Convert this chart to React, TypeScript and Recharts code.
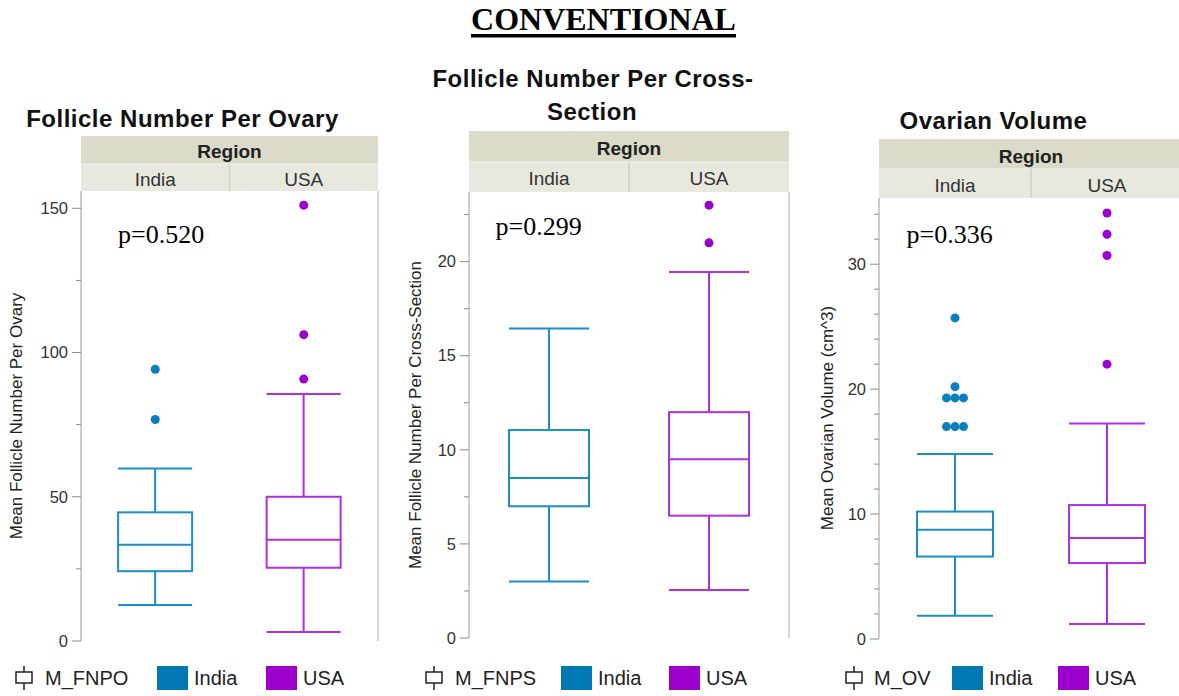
import React from 'react';
import { ComposedChart, Bar, Scatter, XAxis, YAxis } from 'recharts';

const SANS = '"Liberation Sans", Arial, Helvetica, sans-serif';
const SERIF = '"Liberation Serif", "Times New Roman", serif';

const regions = ['India', 'USA'];

// Follicle Number Per Ovary (M_FNPO)
const fnpoBoxes = [
  { region: 'India', low: 12.5, q1: 24.2, median: 33.4, q3: 44.6, high: 59.8 },
  { region: 'USA', low: 3.1, q1: 25.4, median: 35.1, q3: 50.0, high: 85.6 },
];
const fnpoIndiaOutliers = [{ x: 0.5, y: 94.2 }, { x: 0.5, y: 76.8 }];
const fnpoUsaOutliers = [{ x: 1.5, y: 90.8 }, { x: 1.5, y: 106.2 }, { x: 1.5, y: 151.1 }];
const fnpoTicks = [0, 50, 100, 150];
const fnpoMinorTicks = [25, 75, 125];

// Follicle Number Per Cross-Section (M_FNPS)
const fnpsBoxes = [
  { region: 'India', low: 3.0, q1: 7.0, median: 8.5, q3: 11.05, high: 16.45 },
  { region: 'USA', low: 2.55, q1: 6.5, median: 9.5, q3: 12.0, high: 19.45 },
];
const fnpsIndiaOutliers: { x: number; y: number }[] = [];
const fnpsUsaOutliers = [{ x: 1.5, y: 21.0 }, { x: 1.5, y: 23.0 }];
const fnpsTicks = [0, 5, 10, 15, 20];
const fnpsMinorTicks = [2.5, 7.5, 12.5, 17.5, 22.5];

// Ovarian Volume (M_OV)
const ovBoxes = [
  { region: 'India', low: 1.87, q1: 6.6, median: 8.75, q3: 10.2, high: 14.8 },
  { region: 'USA', low: 1.2, q1: 6.08, median: 8.08, q3: 10.72, high: 17.25 },
];
const ovIndiaOutliers = [
  { x: 0.5, y: 25.7 },
  { x: 0.5, y: 20.2 },
  { x: 0.444, y: 19.3 }, { x: 0.5, y: 19.3 }, { x: 0.556, y: 19.3 },
  { x: 0.444, y: 17.0 }, { x: 0.5, y: 17.0 }, { x: 0.556, y: 17.0 },
];
const ovUsaOutliers = [{ x: 1.5, y: 22.0 }, { x: 1.5, y: 30.7 }, { x: 1.5, y: 32.4 }, { x: 1.5, y: 34.1 }];
const ovTicks = [0, 10, 20, 30];
const ovMinorTicks = [2, 4, 6, 8, 12, 14, 16, 18, 22, 24, 26, 28, 32, 34];

const colors: Record<string, { line: string; dot: string; swatch: string }> = {
  India: { line: '#1a8fc7', dot: '#0a7fbf', swatch: '#0078b4' },
  USA: { line: '#b02fe0', dot: '#9c00d0', swatch: '#9d00cc' },
};

function BoxShape(props: any) {
  const { x, y, width, height, payload } = props;
  const top = Math.min(y, y + height);
  const h = Math.abs(height);
  const { low, q1, median, q3, high, region } = payload;
  const py = (v: number) => top + ((high - v) / (high - low)) * h;
  const mid = x + width / 2;
  return (
    <g stroke={colors[region].line} strokeWidth={2} fill="none">
      <line x1={x} x2={x + width} y1={py(high)} y2={py(high)} />
      <line x1={mid} x2={mid} y1={py(high)} y2={py(q3)} />
      <rect x={x} y={py(q3)} width={width} height={py(q1) - py(q3)} fill="#fff" />
      <line x1={x} x2={x + width} y1={py(median)} y2={py(median)} />
      <line x1={mid} x2={mid} y1={py(q1)} y2={py(low)} />
      <line x1={x} x2={x + width} y1={py(low)} y2={py(low)} />
    </g>
  );
}

const makeTick = (minor: number[]) => (props: any) => {
  const { x, y, payload } = props;
  const isMinor = minor.includes(payload.value);
  return (
    <g>
      <line x1={x - (isMinor ? 5 : 9)} x2={x} y1={y} y2={y} stroke="#8a8a8a" strokeWidth={1} />
      {!isMinor && (
        <text x={x - 13} y={y} dy="0.35em" textAnchor="end" fontSize={16.5} fill="#333" fontFamily={SANS}>
          {payload.value}
        </text>
      )}
    </g>
  );
};

const dot = (color: string) => (p: any) => <circle cx={p.cx} cy={p.cy} r={4.5} fill={color} />;

interface PanelProps {
  boxes: any[];
  indiaOutliers: { x: number; y: number }[];
  usaOutliers: { x: number; y: number }[];
  ticks: number[];
  minorTicks: number[];
  yMax: number;
  chartLeft: number;
  plotLeft: number;
  plotRight: number;
  plotTop: number;
  plotBottom: number;
}

function BoxPanel(p: PanelProps) {
  const data = p.boxes.map((b) => ({ ...b, range: [b.low, b.high] }));
  const width = p.plotRight - p.chartLeft + 12;
  const height = p.plotBottom - p.plotTop + 20;
  return (
    <div style={{ position: 'absolute', left: p.chartLeft, top: p.plotTop - 10 }}>
      <ComposedChart
        width={width}
        height={height}
        data={data}
        margin={{ top: 10, right: 12, bottom: 10, left: 0 }}
        barCategoryGap="25%"
      >
        <XAxis
          xAxisId="cat"
          dataKey="region"
          type="category"
          height={0}
          tick={false}
          tickLine={false}
          axisLine={{ stroke: '#999' }}
        />
        <XAxis xAxisId="num" dataKey="x" type="number" domain={[0, 2]} hide />
        <YAxis
          type="number"
          domain={[0, p.yMax]}
          allowDataOverflow
          ticks={[...p.ticks, ...p.minorTicks].sort((a, b) => a - b)}
          interval={0}
          width={p.plotLeft - p.chartLeft}
          tickSize={0}
          tickMargin={0}
          tickLine={false}
          axisLine={{ stroke: '#999' }}
          tick={makeTick(p.minorTicks)}
        />
        <Bar xAxisId="cat" dataKey="range" shape={BoxShape} isAnimationActive={false} />
        <Scatter xAxisId="num" data={p.indiaOutliers} dataKey="y" shape={dot(colors.India.dot)} isAnimationActive={false} />
        <Scatter xAxisId="num" data={p.usaOutliers} dataKey="y" shape={dot(colors.USA.dot)} isAnimationActive={false} />
      </ComposedChart>
    </div>
  );
}

function Header({ left, right, top, mid, bottom, regionBase, catBase }: any) {
  const center = (left + right) / 2;
  return (
    <g fontFamily={SANS}>
      <rect x={left} y={top} width={right - left} height={mid - top} fill="#dcdbca" />
      <rect x={left} y={mid} width={right - left} height={bottom - mid} fill="#e8e8df" />
      <line x1={left} x2={right} y1={mid} y2={mid} stroke="#f2f2ec" strokeWidth={1} />
      <line x1={center} x2={center} y1={mid} y2={bottom} stroke="#d6d6c6" strokeWidth={2} />
      <text x={center} y={regionBase} textAnchor="middle" fontSize={19} fontWeight="bold" fill="#222">Region</text>
      {regions.map((r, i) => (
        <text key={r} x={left + (right - left) * (0.25 + 0.5 * i)} y={catBase} textAnchor="middle" fontSize={19} fill="#333">
          {r}
        </text>
      ))}
    </g>
  );
}

function Legend({ iconX, label, labelX, sw1, sw2 }: any) {
  return (
    <g fontFamily={SANS} fontSize={20} fill="#222">
      <line x1={iconX + 8} x2={iconX + 8} y1={666} y2={690} stroke="#222" strokeWidth={1.5} />
      <rect x={iconX} y={672} width={16} height={11} fill="#fff" stroke="#222" strokeWidth={1.5} />
      <text x={labelX} y={685}>{label}</text>
      <rect x={sw1} y={666} width={31} height={24} fill={colors.India.swatch} />
      <text x={sw1 + 37} y={685}>India</text>
      <rect x={sw2} y={666} width={31} height={24} fill={colors.USA.swatch} />
      <text x={sw2 + 37} y={685}>USA</text>
    </g>
  );
}

export default function App() {
  return (
    <div style={{ position: 'absolute', left: 0, top: 0, width: 1179, height: 696, overflow: 'hidden', background: '#fff' }}>
      <BoxPanel boxes={fnpoBoxes} indiaOutliers={fnpoIndiaOutliers} usaOutliers={fnpoUsaOutliers}
        ticks={fnpoTicks} minorTicks={fnpoMinorTicks} yMax={156}
        chartLeft={0} plotLeft={81} plotRight={378} plotTop={191} plotBottom={641} />
      <BoxPanel boxes={fnpsBoxes} indiaOutliers={fnpsIndiaOutliers} usaOutliers={fnpsUsaOutliers}
        ticks={fnpsTicks} minorTicks={fnpsMinorTicks} yMax={23.7}
        chartLeft={400} plotLeft={469} plotRight={789} plotTop={192} plotBottom={638} />
      <BoxPanel boxes={ovBoxes} indiaOutliers={ovIndiaOutliers} usaOutliers={ovUsaOutliers}
        ticks={ovTicks} minorTicks={ovMinorTicks} yMax={35.3}
        chartLeft={800} plotLeft={879} plotRight={1183} plotTop={198} plotBottom={639} />

      <svg width={1179} height={696} style={{ position: 'absolute', left: 0, top: 0, pointerEvents: 'none' }}>
        <text x={603.5} y={30} textAnchor="middle" fontFamily={SERIF} fontSize={32} fontWeight="bold" fill="#000">CONVENTIONAL</text>
        <rect x={471} y={34} width={265} height={3.5} fill="#000" />

        <g fontFamily={SANS} fontWeight="bold" fontSize={24} fill="#111" letterSpacing={0.5} textAnchor="middle">
          <text x={182.5} y={127}>Follicle Number Per Ovary</text>
          <text x={593} y={87}>Follicle Number Per Cross-</text>
          <text x={592} y={120}>Section</text>
          <text x={993.5} y={129}>Ovarian Volume</text>
        </g>

        <Header left={81} right={378} top={136} mid={164} bottom={191} regionBase={158} catBase={186} />
        <Header left={469} right={789} top={131} mid={162} bottom={192} regionBase={155} catBase={185} />
        <Header left={879} right={1183} top={139} mid={169} bottom={198} regionBase={162.5} catBase={191.5} />

        <g stroke="#aaa" strokeWidth={1}>
          <line x1={378} x2={378} y1={191} y2={641} />
          <line x1={789} x2={789} y1={192} y2={638} />
        </g>

        <g fontFamily={SERIF} fontSize={26} fill="#000">
          <text x={118} y={243}>p=0.520</text>
          <text x={495.5} y={235}>p=0.299</text>
          <text x={906.5} y={242.5}>p=0.336</text>
        </g>

        <g fontFamily={SANS} fontSize={17} fill="#222" textAnchor="middle">
          <text transform="translate(22,416) rotate(-90)">Mean Follicle Number Per Ovary</text>
          <text transform="translate(421,415) rotate(-90)">Mean Follicle Number Per Cross-Section</text>
          <text transform="translate(833,418) rotate(-90)">Mean Ovarian Volume (cm^3)</text>
        </g>

        <Legend iconX={16} label="M_FNPO" labelX={45} sw1={157} sw2={266} />
        <Legend iconX={426} label="M_FNPS" labelX={455} sw1={561} sw2={669} />
        <Legend iconX={846} label="M_OV" labelX={874} sw1={952} sw2={1058} />
      </svg>
    </div>
  );
}
